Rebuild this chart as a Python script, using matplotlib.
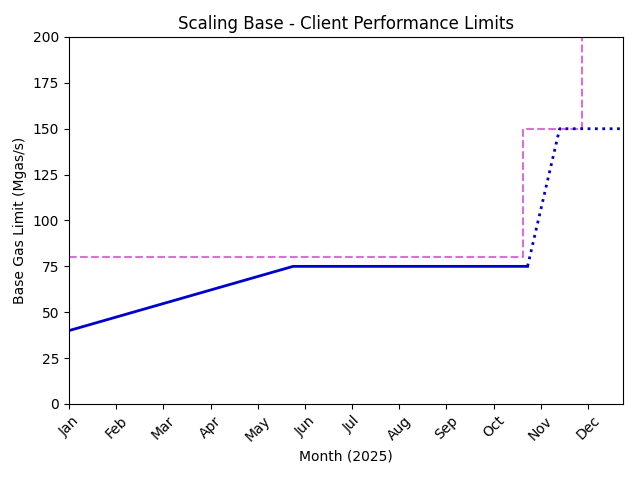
import matplotlib
matplotlib.use("Agg")
import matplotlib.pyplot as plt

months = ["Jan", "Feb", "Mar", "Apr", "May", "Jun", "Jul", "Aug", "Sep", "Oct", "Nov", "Dec"]

# Base gas limit (solid, realised) in month units since Jan 1
base_x = [0.0, 4.75, 9.72]
base_y = [40, 75, 75]
# Projected (dotted)
proj_x = [9.72, 10.40, 11.75]
proj_y = [75, 150, 150]
# Client performance limit (dashed step)
limit_x = [0.0, 9.63, 9.63, 10.88, 10.88]
limit_y = [80, 80, 150, 150, 260]

fig, ax = plt.subplots(figsize=(6.35, 4.79), dpi=100)
ax.plot(limit_x, limit_y, color="orchid", linestyle="--", linewidth=1.5)
ax.plot(base_x, base_y, color="mediumblue", linewidth=2)
ax.plot(proj_x, proj_y, color="mediumblue", linestyle=":", linewidth=2)

ax.set_xlim(0, 11.75)
ax.set_ylim(0, 200)
ax.set_xticks(range(12))
ax.set_xticklabels(months, rotation=45)
ax.set_xlabel("Month (2025)")
ax.set_ylabel("Base Gas Limit (Mgas/s)")
ax.set_title("Scaling Base - Client Performance Limits")
fig.subplots_adjust(left=0.1087, right=0.9816, top=0.9228, bottom=0.1566)
fig.savefig("out.png")
